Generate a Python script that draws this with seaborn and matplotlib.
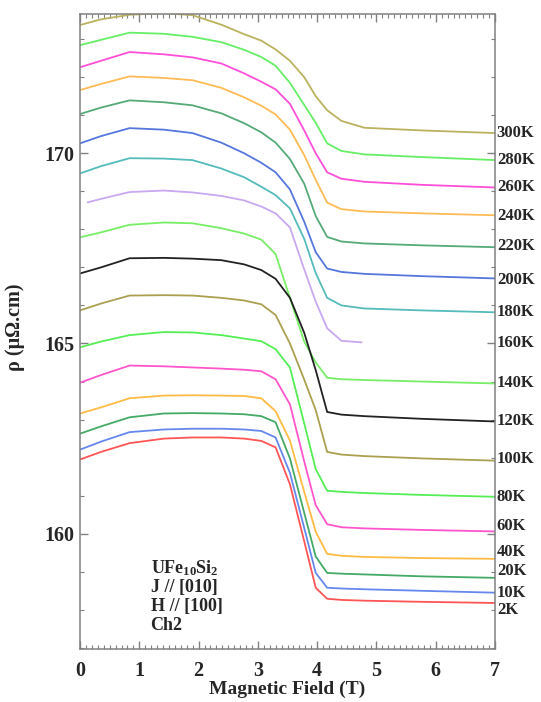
import numpy as np
import pandas as pd
import matplotlib
matplotlib.use("Agg")
import matplotlib.pyplot as plt
from matplotlib.ticker import MultipleLocator
import seaborn as sns

# Magnetoresistance of UFe10Si2 (J // [010], H // [100], channel 2)
# Field grid (T) shared by the isotherms
field = [0.0, 0.353, 0.836, 1.415, 1.898, 2.382, 2.768, 3.058, 3.299,
         3.541, 3.782, 3.976, 4.169, 4.41, 4.797, 5.763, 7.0]

# Resistivity (micro-ohm cm) on that grid
rho_300K = [173.37, 173.52, 173.64, 173.68, 173.63, 173.38, 173.13, 172.96, 172.73,
            172.43, 172.00, 171.50, 171.13, 170.85, 170.67, 170.60, 170.53]
rho_280K = [172.84, 172.98, 173.17, 173.14, 173.06, 172.92, 172.72, 172.53, 172.30,
            171.85, 171.27, 170.80, 170.26, 170.06, 169.97, 169.90, 169.82]
rho_260K = [172.26, 172.43, 172.66, 172.60, 172.52, 172.36, 172.10, 171.88, 171.68,
            171.30, 170.60, 170.00, 169.50, 169.33, 169.25, 169.17, 169.10]
rho_240K = [171.66, 171.82, 172.02, 171.98, 171.92, 171.72, 171.47, 171.25, 171.02,
            170.62, 169.95, 169.30, 168.70, 168.53, 168.47, 168.42, 168.37]
rho_220K = [171.03, 171.20, 171.39, 171.34, 171.26, 171.05, 170.79, 170.55, 170.28,
            169.85, 169.20, 168.35, 167.80, 167.68, 167.63, 167.58, 167.53]
rho_200K = [170.26, 170.45, 170.66, 170.62, 170.53, 170.28, 170.00, 169.75, 169.50,
            169.05, 168.20, 167.40, 166.97, 166.88, 166.83, 166.77, 166.71]
rho_180K = [169.47, 169.66, 169.87, 169.86, 169.82, 169.60, 169.37, 169.12, 168.90,
            168.55, 167.75, 166.85, 166.20, 166.00, 165.92, 165.87, 165.82]
rho_140K = [167.79, 167.92, 168.12, 168.18, 168.16, 168.03, 167.89, 167.73, 167.35,
            166.20, 165.05, 164.50, 164.10, 164.06, 164.04, 164.00, 163.95]
rho_120K = [166.84, 167.00, 167.24, 167.25, 167.23, 167.19, 167.08, 166.93, 166.70,
            166.20, 165.28, 164.30, 163.20, 163.13, 163.09, 163.02, 162.95]
rho_100K = [165.87, 166.05, 166.26, 166.27, 166.26, 166.20, 166.13, 166.03, 165.75,
            165.00, 164.05, 163.25, 162.15, 162.08, 162.04, 161.98, 161.92]
rho_80K = [164.90, 165.05, 165.22, 165.30, 165.29, 165.22, 165.13, 165.06, 164.85,
           164.37, 162.90, 161.70, 161.13, 161.10, 161.07, 161.02, 160.97]
rho_60K = [163.97, 164.17, 164.42, 164.40, 164.37, 164.34, 164.31, 164.27, 164.06,
           163.40, 161.90, 160.75, 160.25, 160.17, 160.14, 160.10, 160.06]
rho_40K = [163.16, 163.32, 163.56, 163.63, 163.64, 163.63, 163.62, 163.56, 163.22,
           162.45, 161.10, 160.05, 159.47, 159.42, 159.39, 159.36, 159.34]
rho_20K = [162.63, 162.82, 163.06, 163.16, 163.17, 163.16, 163.14, 163.09, 162.93,
           161.98, 160.55, 159.40, 158.97, 158.95, 158.93, 158.88, 158.84]
rho_10K = [162.21, 162.42, 162.67, 162.74, 162.76, 162.76, 162.74, 162.70, 162.53,
           161.60, 160.15, 158.97, 158.58, 158.56, 158.54, 158.50, 158.45]
rho_2K = [161.95, 162.15, 162.38, 162.50, 162.53, 162.53, 162.50, 162.44, 162.27,
          161.30, 159.80, 158.58, 158.29, 158.26, 158.24, 158.21, 158.18]

# The 160 K sweep covers a shorter field range
field_160K = [0.13, 0.353, 0.836, 1.415, 1.898, 2.382, 2.768, 3.058, 3.299,
              3.541, 3.782, 3.976, 4.169, 4.41, 4.75]
rho_160K = [168.71, 168.80, 168.98, 169.02, 168.97, 168.88, 168.76, 168.60, 168.42,
            168.05, 166.95, 166.10, 165.40, 165.07, 165.03]

temperatures = ["300K", "280K", "260K", "240K", "220K", "200K", "180K", "160K",
                "140K", "120K", "100K", "80K", "60K", "40K", "20K", "10K", "2K"]
# Vertical position of each temperature tag at the right edge
tag_rho = [170.53, 169.82, 169.10, 168.34, 167.55, 166.68, 165.84, 165.00,
           163.95, 162.95, 161.97, 160.97, 160.21, 159.53, 159.03, 158.45, 158.00]

colors = ["#bab25e", "#66ee66", "#ff4fd8", "#ffbb55", "#55aa77", "#5577dd",
          "#55bbbb", "#c8a8f0", "#77ee66", "#222222", "#aaa050", "#55ee55",
          "#ff55cc", "#ffbb44", "#44aa66", "#6688ee", "#ff5555"]

series = {
    "300K": (field, rho_300K), "280K": (field, rho_280K), "260K": (field, rho_260K),
    "240K": (field, rho_240K), "220K": (field, rho_220K), "200K": (field, rho_200K),
    "180K": (field, rho_180K), "160K": (field_160K, rho_160K),
    "140K": (field, rho_140K), "120K": (field, rho_120K), "100K": (field, rho_100K),
    "80K": (field, rho_80K), "60K": (field, rho_60K), "40K": (field, rho_40K),
    "20K": (field, rho_20K), "10K": (field, rho_10K), "2K": (field, rho_2K),
}

frames = []
for t in temperatures:
    h, r = series[t]
    frames.append(pd.DataFrame({"H": h, "rho": r, "T": t}))
df = pd.concat(frames, ignore_index=True)

sns.set_style("ticks")
plt.rcParams["font.family"] = ["Liberation Serif", "DejaVu Serif"]
plt.rcParams["font.weight"] = "bold"
plt.rcParams["mathtext.fontset"] = "custom"
plt.rcParams["mathtext.rm"] = "Liberation Serif:bold"
plt.rcParams["mathtext.it"] = "Liberation Serif:bold"
plt.rcParams["mathtext.default"] = "rm"

fig = plt.figure(figsize=(5.41, 7.02), dpi=100)
ax = fig.add_axes([80 / 541, 1 - 649 / 702, 415 / 541, 635 / 702])

sns.lineplot(data=df, x="H", y="rho", hue="T", hue_order=temperatures,
             palette=colors, estimator=None, sort=False, legend=False,
             linewidth=1.3, ax=ax)

ax.set_xlim(0, 7)
ax.set_ylim(156.97, 173.66)
ax.xaxis.set_major_locator(MultipleLocator(1))
ax.xaxis.set_minor_locator(MultipleLocator(0.1))
ax.yaxis.set_major_locator(MultipleLocator(5))
ax.yaxis.set_minor_locator(MultipleLocator(1))
ax.tick_params(which="both", direction="in", top=True, right=True,
               color="#808080", labelsize=14.5)
ax.tick_params(which="major", length=5.5, width=1.0)
ax.tick_params(which="minor", length=2.8, width=0.8)
ax.tick_params(axis="x", pad=9)
ax.tick_params(axis="y", pad=4)
for lab in ax.get_xticklabels() + ax.get_yticklabels():
    lab.set_fontweight("bold")
for s in ax.spines.values():
    s.set_color("#808080")
    s.set_linewidth(1.1)

ax.set_xlabel("Magnetic Field (T)", fontsize=14, fontweight="bold")
ax.set_ylabel("ρ (μΩ.cm)", fontsize=14.5, fontweight="bold")
ax.xaxis.set_label_coords(0.5, -0.0495)
ax.yaxis.set_label_coords(-0.1325, 0.507)

# temperature tags just outside the right spine
for t, y in zip(temperatures, tag_rho):
    ax.text(7.03, y, t, fontsize=12, fontweight="bold", va="center",
            ha="left", clip_on=False)

# sample description
info = ["UFe$_{10}$Si$_2$", "J // [010]", "H // [100]", "Ch2"]
for i, line in enumerate(info):
    ax.text(0.17, 0.128 - i * 0.0305, line, transform=ax.transAxes,
            fontsize=13, fontweight="bold", va="center", ha="left")

fig.savefig("out.png", dpi=100)
